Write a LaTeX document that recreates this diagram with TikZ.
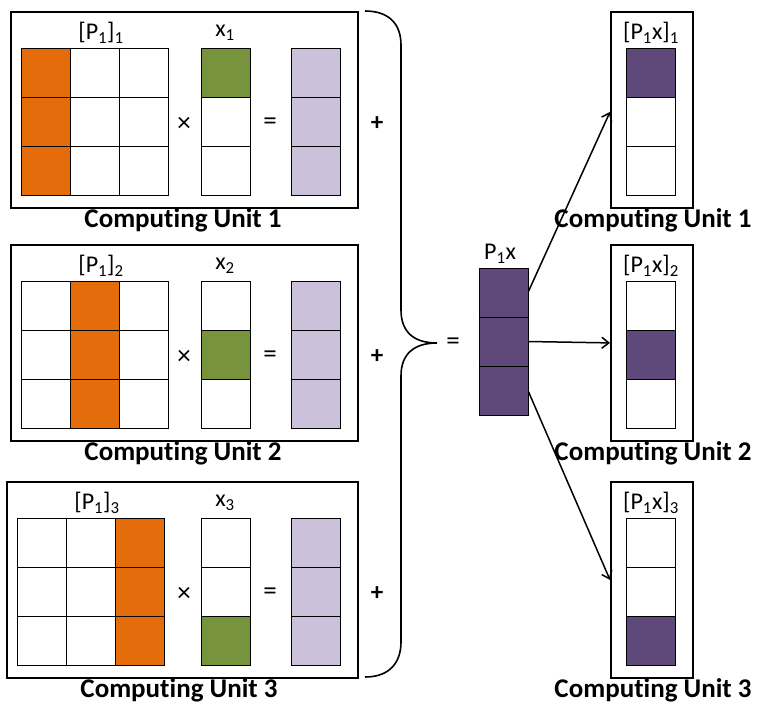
\documentclass[tikz,border=0pt]{standalone}
\usepackage{fontspec}
\setmainfont[Ligatures=NoCommon]{Carlito}
\usetikzlibrary{arrows.meta}

\definecolor{porange}{HTML}{E46C0A}
\definecolor{pgreen}{HTML}{77933C}
\definecolor{lpurple}{HTML}{CCC1DA}
\definecolor{dpurple}{HTML}{5F497A}

\tikzset{
    unit/.style={draw, line width=1.8pt, inner sep=0pt, anchor=north west},
    cell/.style={draw, line width=0.8pt},
    lbl/.style={font=\fontsize{24}{24}\selectfont, inner sep=0pt},
    opsign/.style={font=\fontsize{27}{27}\selectfont, inner sep=0pt},
    plussign/.style={font=\bfseries\fontsize{25}{25}\selectfont, inner sep=0pt},
    unitcap/.style={font=\bfseries\fontsize{27}{27}\selectfont, inner sep=0pt},
    arr/.style={line width=1.5pt, -{Straight Barb[length=7pt,width=11pt,line width=1.5pt]}}
}

\begin{document}
\begin{tikzpicture}[x=1pt,y=-1pt]
        \useasboundingbox (0,0) rectangle (760,716);

        %%%%%%%%% Unita di calcolo (sinistra) %%%%%%%%%
        \foreach \k/\dy/\dx in {1/0/0, 2/233/0, 3/470/-4} {
            \node[unit, minimum width={347-\dx}, minimum height=196] (left\k) at ({10+\dx},{11+\dy}) {};

            % matrice
            \fill[porange] ({21+\dx+49*(\k-1)},{48+\dy}) rectangle +(49,147);
            \foreach \i in {0,1,2}
                \foreach \j in {0,1,2}
                    \draw[cell] ({21+\dx+49*\i},{48+\dy+49*\j}) rectangle +(49,49);

            % vettore x
            \fill[pgreen] (201,{48+\dy+49*(\k-1)}) rectangle +(49,49);
            \foreach \j in {0,1,2}
                \draw[cell] (201,{48+\dy+49*\j}) rectangle +(49,49);

            % risultato parziale
            \foreach \j in {0,1,2}
                \draw[cell, fill=lpurple] (291,{48+\dy+49*\j}) rectangle +(49,49);

            \node[lbl] (lp\k) at ({101+\dx},{33+\dy}) {[P\textsubscript{1}]\textsubscript{\k}};
            \node[lbl] (lx\k) at (225,{33+\dy}) {x\textsubscript{\k}};
            \node[opsign] (times\k) at (184,{124+\dy}) {×};
            \node[opsign] (eq\k) at (270,{124+\dy}) {=};
            \node[plussign] (plus\k) at (377,{124+\dy}) {+};
            \node[unitcap] (capl\k) at ({183+\dx},{220+\dy}) {Computing Unit \k};
        }

        %%%%%%%%% Parentesi %%%%%%%%%
        \coordinate (tip) at (437,343);
        \draw[line width=1.6pt] (365,11) .. controls (390,11) and (401,25) .. (401,45)
            -- (401,310) .. controls (401,333) and (415,343) .. (tip)
            .. controls (415,343) and (401,353) .. (401,376)
            -- (401,642) .. controls (401,662) and (390,677) .. (365,677);

        %%%%%%%%% Somma P1x %%%%%%%%%
        \node[opsign] (eqsum) at (453,344) {=};
        \node[cell, fill=dpurple, inner sep=0pt, minimum width=49, minimum height=147] (p1x) at (503.5,341.5) {};
        \draw[cell] (p1x.west |- 0,317) -- (p1x.east |- 0,317);
        \draw[cell] (p1x.west |- 0,366) -- (p1x.east |- 0,366);
        \node[lbl] (lp1x) at (500,254) {P\textsubscript{1}x};

        %%%%%%%%% Unita di calcolo (destra) %%%%%%%%%
        \foreach \k/\dy in {1/0, 2/233, 3/470} {
            \node[unit, minimum width=82, minimum height=196] (right\k) at (610,{11+\dy}) {};
            \fill[dpurple] (626,{48+\dy+49*(\k-1)}) rectangle +(49,49);
            \foreach \j in {0,1,2}
                \draw[cell] (626,{48+\dy+49*\j}) rectangle +(49,49);
            \node[lbl] (lr\k) at (651,{33+\dy}) {[P\textsubscript{1}x]\textsubscript{\k}};
            \node[unitcap] (capr\k) at (653,{220+\dy}) {Computing Unit \k};
        }

        %%%%%%%%% Frecce %%%%%%%%%
        \draw[arr] ([yshift=50pt]p1x.east) -- ([yshift=-2pt]right1.west);
        \draw[arr] (p1x.east) -- (right2.west);
        \draw[arr] ([yshift=-50pt]p1x.east) -- (right3.west);
    \end{tikzpicture}
\end{document}
